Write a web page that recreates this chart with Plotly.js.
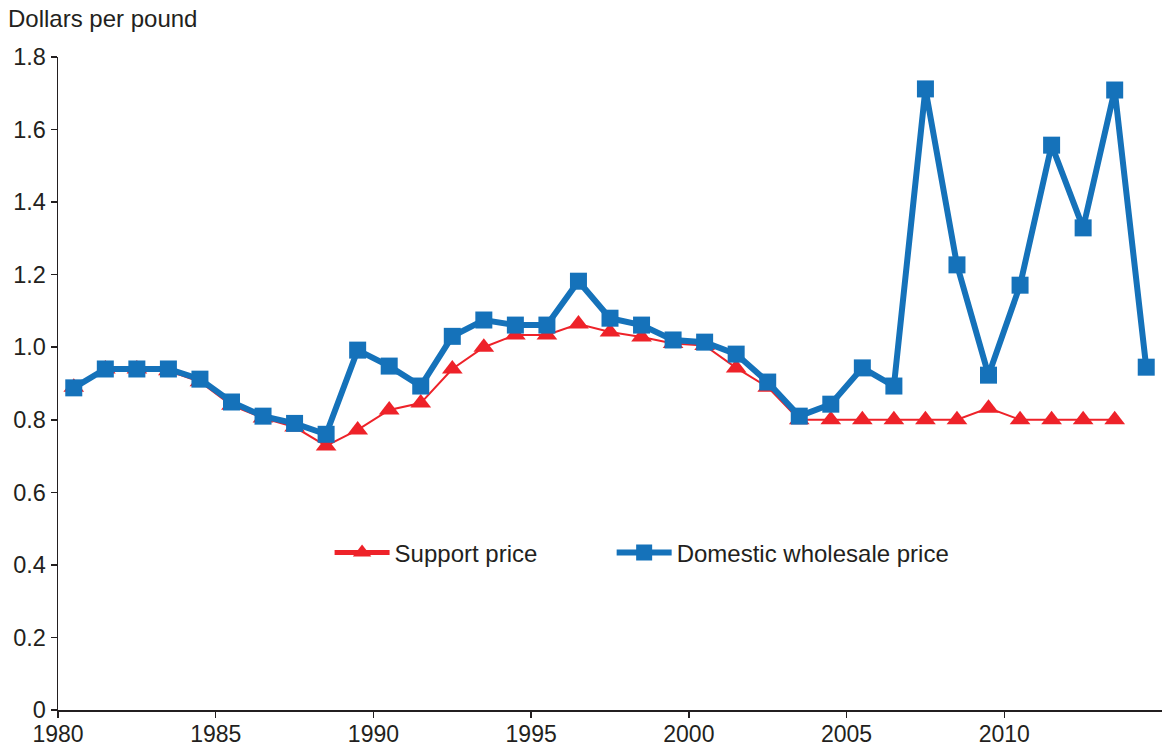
<!DOCTYPE html>
<html>
<head>
<meta charset="utf-8">
<script src="https://cdn.plot.ly/plotly-3.0.1.min.js"></script>
<style>html,body{margin:0;padding:0;background:#fff;}#chart{width:1162px;height:750px;}</style>
</head>
<body>
<div id="chart"></div>
<script>
// Years (plotted at mid-year)
const supportYears = [1980,1981,1982,1983,1984,1985,1986,1987,1988,1989,1990,1991,1992,1993,1994,1995,1996,1997,1998,1999,2000,2001,2002,2003,2004,2005,2006,2007,2008,2009,2010,2011,2012,2013];
const supportPrice = [0.89,0.94,0.94,0.935,0.905,0.84,0.805,0.78,0.728,0.772,0.827,0.846,0.94,1.0,1.034,1.034,1.064,1.042,1.028,1.01,1.005,0.943,0.89,0.80,0.80,0.80,0.80,0.80,0.80,0.832,0.80,0.80,0.80,0.80];
const wholesaleYears = [1980,1981,1982,1983,1984,1985,1986,1987,1988,1989,1990,1991,1992,1993,1994,1995,1996,1997,1998,1999,2000,2001,2002,2003,2004,2005,2006,2007,2008,2009,2010,2011,2012,2013,2014];
const wholesalePrice = [0.888,0.94,0.94,0.94,0.912,0.849,0.81,0.79,0.76,0.992,0.948,0.893,1.03,1.075,1.061,1.061,1.182,1.08,1.061,1.02,1.014,0.981,0.904,0.81,0.843,0.943,0.893,1.712,1.227,0.923,1.171,1.557,1.329,1.709,0.945];
const yTickVals = [0,0.2,0.4,0.6,0.8,1.0,1.2,1.4,1.6,1.8];
const yTickText = ['0','0.2','0.4','0.6','0.8','1.0','1.2','1.4','1.6','1.8'];
const xTickVals = [1980,1985,1990,1995,2000,2005,2010];

const mid = a => a.map(y => y + 0.5);
const RED = '#EE2229', BLUE = '#1572BA';
const FONT = 'Liberation Sans, Arial, Helvetica, sans-serif';
const TXT = '#231F20';

const traces = [
  {x: mid(supportYears), y: supportPrice, name: 'Support price', mode: 'lines+markers', showlegend: false,
   line: {color: RED, width: 2}, marker: {symbol: 'triangle-up', size: 18, color: RED}},
  {x: mid(wholesaleYears), y: wholesalePrice, name: 'Domestic wholesale price', mode: 'lines+markers', showlegend: false,
   line: {color: BLUE, width: 6}, marker: {symbol: 'square', size: 17, color: BLUE}},
  // legend-only entries (thicker legend lines, as in the original)
  {x: [null], y: [null], name: 'Support price', mode: 'lines+markers', legend: 'legend',
   line: {color: RED, width: 5}, marker: {symbol: 'triangle-up', size: 18, color: RED}},
  {x: [null], y: [null], name: 'Domestic wholesale price', mode: 'lines+markers', legend: 'legend2',
   line: {color: BLUE, width: 6}, marker: {symbol: 'square', size: 17, color: BLUE}}
];

const legendBase = {orientation: 'h', xanchor: 'left', y: 0.2404, yanchor: 'middle',
  font: {family: FONT, size: 24, color: TXT}, bgcolor: 'rgba(0,0,0,0)', itemwidth: 55};

const layout = {
  width: 1162, height: 750,
  margin: {l: 58, r: 0, t: 57, b: 40, pad: 0},
  paper_bgcolor: '#fff', plot_bgcolor: '#fff',
  font: {family: FONT, size: 23, color: TXT},
  showlegend: true,
  legend: Object.assign({}, legendBase, {x: 0.246}),
  legend2: Object.assign({}, legendBase, {x: 0.5015}),
  xaxis: {range: [1980, 2015], tickvals: xTickVals, ticks: 'outside', ticklen: 6, tickwidth: 1.5,
          ticklabelstandoff: -3,
          tickcolor: TXT, showline: true, linecolor: TXT, linewidth: 1.5,
          showgrid: false, zeroline: false, tickfont: {size: 23}, fixedrange: true},
  yaxis: {range: [0, 1.8], tickvals: yTickVals, ticktext: yTickText, ticks: 'outside', ticklen: 6, tickwidth: 1.5,
          tickcolor: TXT, showline: true, linecolor: TXT, linewidth: 1.5,
          showgrid: false, zeroline: false, tickfont: {size: 23.5}, fixedrange: true},
  annotations: [{text: 'Dollars per pound', xref: 'paper', yref: 'paper', x: -0.047, y: 1.0597,
                 xanchor: 'left', yanchor: 'middle', showarrow: false, font: {size: 24, color: TXT}}]
};

Plotly.newPlot('chart', traces, layout, {displayModeBar: false, staticPlot: true});
</script>
</body>
</html>
